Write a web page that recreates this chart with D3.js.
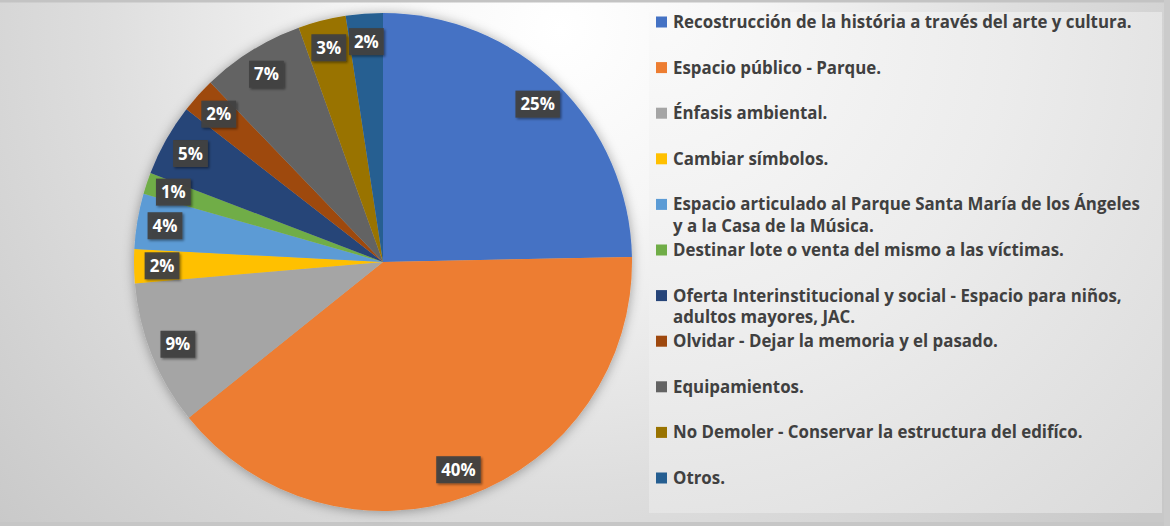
<!DOCTYPE html>
<html>
<head>
<meta charset="utf-8">
<script src="https://cdn.jsdelivr.net/npm/d3@7/dist/d3.min.js"></script>
<style>
  html, body { margin: 0; padding: 0; background: #ffffff; }
  svg { display: block; }
</style>
</head>
<body>
<svg id="chart" width="1170" height="526"></svg>
<script>
// ---- data ----
const categories = [
  "Recostrucción de la história a través del arte y cultura.",
  "Espacio público - Parque.",
  "Énfasis ambiental.",
  "Cambiar símbolos.",
  "Espacio articulado al Parque Santa María de los Ángeles\ny a la Casa de la Música.",
  "Destinar lote o venta del mismo a las víctimas.",
  "Oferta Interinstitucional y social - Espacio para niños,\nadultos mayores, JAC.",
  "Olvidar - Dejar la memoria y el pasado.",
  "Equipamientos.",
  "No Demoler - Conservar la estructura del edifíco.",
  "Otros."
];
const values = [24.7, 39.6, 9.4, 2.2, 3.6, 1.4, 4.7, 2.3, 6.7, 3.1, 2.4];
const colors = ["#4472C4", "#ED7D31", "#A5A5A5", "#FFC000", "#5B9BD5", "#70AD47",
                "#264478", "#9E480E", "#636363", "#997300", "#255E91"];

// ---- layout ----
const W = 1170, H = 526;
const cx = 383, cy = 262, R = 249, labelR = 221;
const svg = d3.select("#chart");
const defs = svg.append("defs");
const fontFam = "'Open Sans', 'Noto Sans', sans-serif";

// background gradient
const bg = defs.append("radialGradient").attr("id", "bg")
  .attr("gradientUnits", "userSpaceOnUse")
  .attr("cx", 560).attr("cy", 30).attr("r", 760);
bg.append("stop").attr("offset", 0).attr("stop-color", "#ffffff");
bg.append("stop").attr("offset", 0.25).attr("stop-color", "#f6f6f6");
bg.append("stop").attr("offset", 0.6).attr("stop-color", "#dedede");
bg.append("stop").attr("offset", 1).attr("stop-color", "#c8c8c8");

const lg = defs.append("radialGradient").attr("id", "lg")
  .attr("gradientUnits", "userSpaceOnUse")
  .attr("cx", 660).attr("cy", 20).attr("r", 700);
lg.append("stop").attr("offset", 0).attr("stop-color", "#fafafa");
lg.append("stop").attr("offset", 0.5).attr("stop-color", "#ececec");
lg.append("stop").attr("offset", 1).attr("stop-color", "#dadada");

// pie shadow
const ps = defs.append("filter").attr("id", "pieShadow")
  .attr("x", "-20%").attr("y", "-20%").attr("width", "140%").attr("height", "140%");
ps.append("feDropShadow").attr("dx", 0).attr("dy", 1).attr("stdDeviation", 6)
  .attr("flood-color", "#000").attr("flood-opacity", 0.35);

const ls = defs.append("filter").attr("id", "lblShadow")
  .attr("x", "-30%").attr("y", "-30%").attr("width", "160%").attr("height", "160%");
ls.append("feDropShadow").attr("dx", 1.5).attr("dy", 1.5).attr("stdDeviation", 1.2)
  .attr("flood-color", "#000").attr("flood-opacity", 0.45);

svg.append("rect").attr("x", 0).attr("y", 0).attr("width", W).attr("height", H)
  .attr("fill", "url(#bg)");
// frame edges
svg.append("rect").attr("x", 0).attr("y", 0).attr("width", W).attr("height", 2.5).attr("fill", "#c3c3c3");
svg.append("rect").attr("x", 0).attr("y", 522).attr("width", W).attr("height", 4).attr("fill", "#c6c6c6");
svg.append("rect").attr("x", 1164).attr("y", 0).attr("width", 6).attr("height", H).attr("fill", "#cbcbcb");

// measure font scale so the first legend line spans ~459px
const probe = svg.append("text").attr("font-family", fontFam).attr("font-weight", "bold")
  .attr("font-size", 16).text(categories[0]);
const pw = probe.node().getComputedTextLength();
probe.remove();
const legFont = Math.min(19, 16 * 459 / pw);

// ---- pie ----
const total = d3.sum(values);
const pie = d3.pie().sort(null).value(d => d)(values);
const arc = d3.arc().innerRadius(0).outerRadius(R);
const labelArc = d3.arc().innerRadius(labelR).outerRadius(labelR);

const g = svg.append("g").attr("transform", `translate(${cx},${cy})`);
g.append("g").attr("filter", "url(#pieShadow)")
  .selectAll("path").data(pie).join("path")
  .attr("d", arc)
  .attr("fill", (d, i) => colors[i]);

const lbl = g.append("g").selectAll("g").data(pie).join("g")
  .attr("transform", d => `translate(${labelArc.centroid(d)})`);
lbl.each(function(d) {
  const sel = d3.select(this);
  const t = sel.append("text")
    .attr("text-anchor", "middle").attr("dy", "0.36em")
    .attr("font-family", fontFam).attr("font-weight", "bold")
    .attr("font-size", legFont).attr("fill", "#ffffff")
    .text(Math.round(d.value / total * 100) + "%");
  const w = t.node().getComputedTextLength();
  sel.insert("rect", "text")
    .attr("x", -w / 2 - 5).attr("y", -13.5)
    .attr("width", w + 10).attr("height", 27)
    .attr("fill", "#404040").attr("fill-opacity", 0.95)
    .attr("filter", "url(#lblShadow)");
});

// ---- legend ----
svg.append("rect").attr("x", 649).attr("y", 12).attr("width", 513).attr("height", 501)
  .attr("fill", "url(#lg)");
const rowY0 = 22, rowStep = 45.6, lineStep = 21.5;
const leg = svg.append("g").selectAll("g").data(categories).join("g")
  .attr("transform", (d, i) => `translate(656,${rowY0 + i * rowStep})`);
leg.append("rect").attr("x", 0).attr("y", -5.5).attr("width", 11).attr("height", 11)
  .attr("fill", (d, i) => colors[i]);
leg.each(function(d) {
  const t = d3.select(this).append("text")
    .attr("font-family", fontFam).attr("font-weight", "bold")
    .attr("font-size", legFont).attr("fill", "#404040");
  d.split("\n").forEach((line, j) => {
    t.append("tspan").attr("x", 17).attr("y", j * lineStep).attr("dy", "0.36em").text(line);
  });
});
</script>
</body>
</html>
